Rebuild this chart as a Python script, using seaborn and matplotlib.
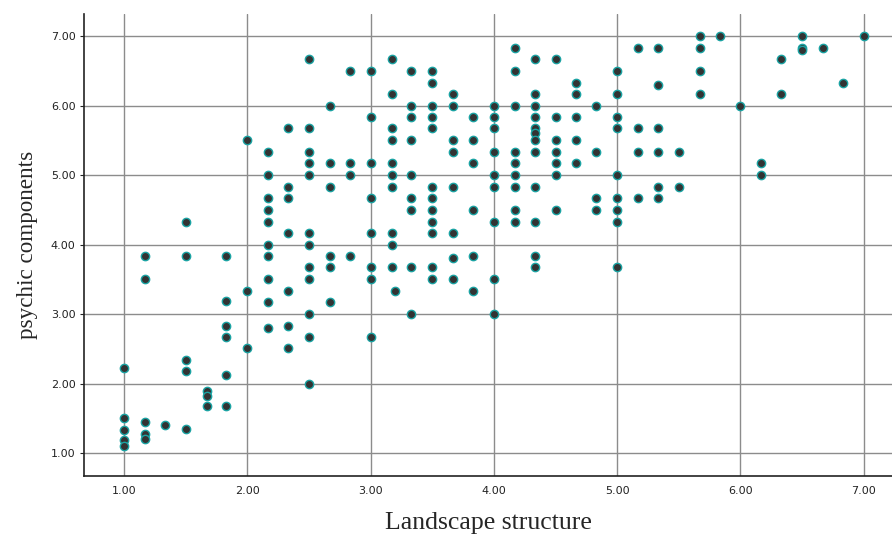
import matplotlib
matplotlib.use("Agg")
import matplotlib.pyplot as plt
import seaborn as sns
import pandas as pd

# Data: grouped by Landscape-structure value (x) -> psychic components values (y)
x_1_00 = [2.22, 1.50, 1.33, 1.18, 1.10]
x_1_17 = [3.83, 3.50, 1.45, 1.27, 1.20]
x_1_33 = [1.40]
x_1_50 = [4.33, 3.83, 2.34, 2.18, 1.34]
x_1_67 = [1.89, 1.82, 1.68]
x_1_83 = [3.83, 3.18, 2.83, 2.67, 2.12, 1.67]
x_2_00 = [5.50, 3.33, 2.51]
x_2_17 = [5.33, 5.00, 4.67, 4.50, 4.33, 4.00, 3.83, 3.50, 3.17, 2.80]
x_2_33 = [5.67, 4.83, 4.67, 4.17, 3.33, 2.83, 2.51]
x_2_50 = [6.67, 5.67, 5.33, 5.17, 5.00, 4.17, 4.00, 3.68, 3.50, 3.00, 2.67, 2.00]
x_2_67 = [6.00, 5.17, 4.83, 3.83, 3.68, 3.17]
x_2_83 = [6.50, 5.17, 5.00, 3.83]
x_3_00 = [6.50, 5.83, 5.17, 4.67, 4.17, 3.68, 3.50, 2.67]
x_3_17 = [6.67, 6.17, 5.67, 5.50, 5.17, 5.00, 4.83, 4.17, 4.00, 3.67]
x_3_20 = [3.33]
x_3_33 = [6.50, 6.00, 5.83, 5.50, 5.00, 4.67, 4.50, 3.67, 3.00]
x_3_50 = [6.50, 6.33, 6.00, 5.83, 5.67, 4.83, 4.67, 4.50, 4.33, 4.17, 3.67, 3.50]
x_3_67 = [6.17, 6.00, 5.50, 5.33, 4.83, 4.17, 3.80, 3.50]
x_3_83 = [5.83, 5.50, 5.17, 4.50, 3.83, 3.33]
x_4_00 = [6.00, 5.83, 5.67, 5.33, 5.00, 4.83, 4.33, 3.50, 3.00]
x_4_17 = [6.83, 6.50, 6.00, 5.33, 5.17, 5.00, 4.83, 4.50, 4.33]
x_4_33 = [6.67, 6.17, 6.00, 5.83, 5.67, 5.61, 5.50, 5.33, 4.83, 4.33, 3.83, 3.67]
x_4_50 = [6.67, 5.83, 5.50, 5.33, 5.17, 5.00, 4.50]
x_4_67 = [6.33, 6.17, 5.83, 5.50, 5.17]
x_4_83 = [6.00, 5.33, 4.67, 4.50]
x_5_00 = [6.50, 6.17, 5.83, 5.67, 5.00, 4.67, 4.50, 4.33, 3.67]
x_5_17 = [6.83, 5.67, 5.33, 4.67]
x_5_33 = [6.83, 6.30, 5.67, 5.33, 4.83, 4.67]
x_5_50 = [5.33, 4.83]
x_5_67 = [7.00, 6.83, 6.50, 6.17]
x_5_83 = [7.00]
x_6_00 = [6.00]
x_6_17 = [5.17, 5.00]
x_6_33 = [6.67, 6.17]
x_6_50 = [7.00, 6.83, 6.80]
x_6_67 = [6.83]
x_6_83 = [6.33]
x_7_00 = [7.00]

x_levels = [1.00, 1.17, 1.33, 1.50, 1.67, 1.83, 2.00, 2.17, 2.33, 2.50, 2.67, 2.83,
            3.00, 3.17, 3.20, 3.33, 3.50, 3.67, 3.83, 4.00, 4.17, 4.33, 4.50, 4.67,
            4.83, 5.00, 5.17, 5.33, 5.50, 5.67, 5.83, 6.00, 6.17, 6.33, 6.50, 6.67,
            6.83, 7.00]
y_groups = [x_1_00, x_1_17, x_1_33, x_1_50, x_1_67, x_1_83, x_2_00, x_2_17, x_2_33,
            x_2_50, x_2_67, x_2_83, x_3_00, x_3_17, x_3_20, x_3_33, x_3_50, x_3_67,
            x_3_83, x_4_00, x_4_17, x_4_33, x_4_50, x_4_67, x_4_83, x_5_00, x_5_17,
            x_5_33, x_5_50, x_5_67, x_5_83, x_6_00, x_6_17, x_6_33, x_6_50, x_6_67,
            x_6_83, x_7_00]

tick_vals = [1, 2, 3, 4, 5, 6, 7]
tick_labels = ["1.00", "2.00", "3.00", "4.00", "5.00", "6.00", "7.00"]

xs, ys = [], []
for xv, grp in zip(x_levels, y_groups):
    for yv in grp:
        xs.append(xv)
        ys.append(yv)
df = pd.DataFrame({"Landscape structure": xs, "psychic components": ys})

sns.set_style("white")
fig = plt.figure(figsize=(8.92, 5.34), dpi=100)
ax = fig.add_axes([84 / 892, 58 / 534, 808 / 892, 462 / 534])

sns.scatterplot(data=df, x="Landscape structure", y="psychic components", ax=ax,
                s=36, color="#333333", edgecolor="#1aa3a3", linewidth=1.0, zorder=3)

ax.set_xlim(0.676, 7.229)
ax.set_ylim(0.669, 7.317)
ax.set_xticks(tick_vals)
ax.set_xticklabels(tick_labels)
ax.set_yticks(tick_vals)
ax.set_yticklabels(tick_labels)
ax.grid(True, color="#8c8c8c", linewidth=1.0, zorder=0)
ax.set_axisbelow(True)
for side in ["top", "right"]:
    ax.spines[side].set_visible(False)
for side in ["left", "bottom"]:
    ax.spines[side].set_color("#222222")
    ax.spines[side].set_linewidth(1.2)
ax.tick_params(axis="x", length=0, labelsize=8, colors="#222222", pad=7)
ax.tick_params(axis="y", length=3, width=0.8, direction="out", labelsize=8,
               colors="#222222", pad=3, left=True)
for lab in ax.get_xticklabels() + ax.get_yticklabels():
    lab.set_family("DejaVu Sans Condensed")
ax.set_xlabel("Landscape structure", fontsize=18.5, family="Liberation Serif", labelpad=12)
ax.set_ylabel("psychic components", fontsize=16.7, family="Liberation Serif", labelpad=9)

fig.savefig("out.png", dpi=100)
